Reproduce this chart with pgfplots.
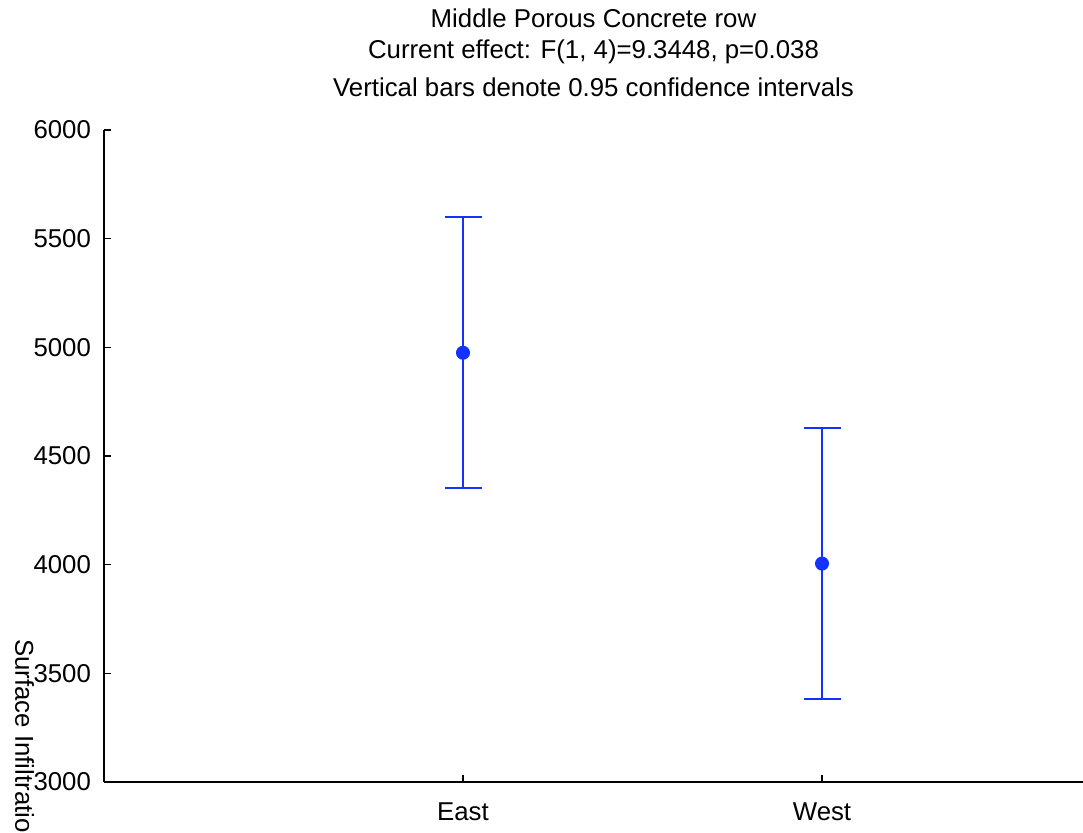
\documentclass[border=0pt]{standalone}
\usepackage{pgfplots}
\pgfplotsset{compat=1.18}
\usepackage{fontspec}
\setmainfont{Liberation Sans}
\definecolor{ebblue}{RGB}{20,50,255}
\begin{document}
\begin{tikzpicture}
\useasboundingbox (0,0) rectangle (541.5pt,416pt);
\clip (0,0) rectangle (541.5pt,416pt);
\begin{axis}[
  at={(52pt,25pt)}, anchor=south west,
  scale only axis, width=489.5pt, height=326pt,
  font=\fontsize{12.9}{15}\selectfont,
  /pgf/number format/assume math mode=true,
  axis lines*=left,
  axis line style={line width=0.75pt},
  tick style={line width=0.6pt, black},
  major tick length=3.5pt,
  tick align=inside,
  xmin=-1, xmax=1.727,
  ymin=3000, ymax=6000,
  xtick={0,1}, xticklabels={East,West},
  ytick={3000,3500,...,6000},
  yticklabel style={xshift=-3pt},
  xticklabel style={yshift=-7pt},
  scaled y ticks=false,
  yticklabel={\pgfmathprintnumber[fixed,set thousands separator={}]{\tick}},
  ylabel={Surface Infiltration Rate (mm/hr)},
  ylabel style={rotate=180, at={(axis description cs:-0.0838,0.23)}, anchor=west},
  clip=false,
]
\addplot[ebblue, line width=1pt, mark=*, mark size=3pt, mark options={solid, fill=ebblue, draw=ebblue},
  only marks,
  error bars/.cd, y dir=both, y explicit,
  error bar style={line width=1pt, ebblue},
  error mark options={rotate=90, mark size=9.25pt, line width=1pt, ebblue}]
  coordinates {
  (0,4975) +- (0,623)
  (1,4005) +- (0,622)
  };
\end{axis}
\begin{scope}[font=\fontsize{12.9}{15}\selectfont]
\node[anchor=base] at (296.75pt,402pt) {Middle Porous Concrete row};
\node[anchor=base] at (296.75pt,386.5pt) {Current effect: F(1, 4)=9.3448, p=0.038};
\node[anchor=base] at (296.75pt,367.5pt) {Vertical bars denote 0.95 confidence intervals};
\end{scope}
\end{tikzpicture}
\end{document}
